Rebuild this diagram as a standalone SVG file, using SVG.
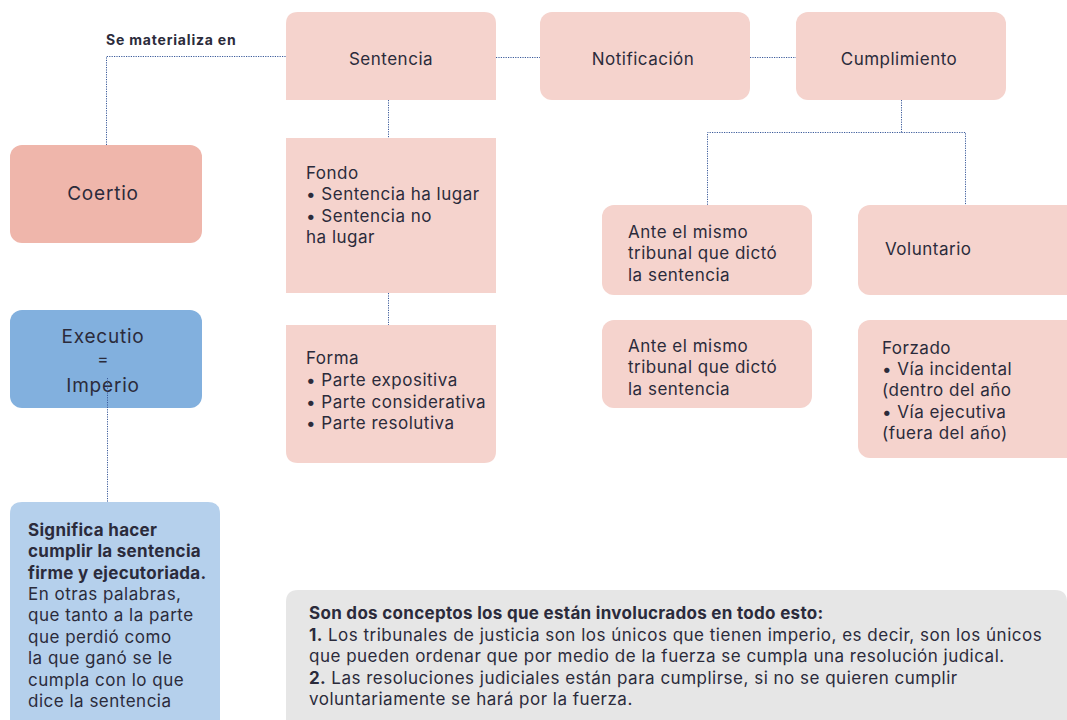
<svg xmlns="http://www.w3.org/2000/svg" width="1067" height="720" viewBox="0 0 1067 720">
<style>
.t{font-family:"Inter","Liberation Sans",sans-serif;font-size:17px;letter-spacing:0.5px;fill:#2b2b3b}
.b{font-weight:bold;letter-spacing:0.3px}
.big{font-size:19px;letter-spacing:0.8px}
.c{text-anchor:middle}
.pink{fill:#f5d3cd}
.con{fill:none;stroke:#3b5b9b;stroke-width:1;stroke-dasharray:1.2 1.2}
</style>
<g id="label-materializa"><text class="t b" x="106" y="45" style="font-size:14px;letter-spacing:0.8px">Se materializa en</text></g>
<g id="sentencia">
<path class="pink" d="M286 100 V24 Q286 12 298 12 H484 Q496 12 496 24 V100 Z"/>
<text class="t c" x="391" y="65">Sentencia</text>
</g>
<g id="notificacion">
<rect class="pink" x="540" y="12" width="210" height="88" rx="12"/>
<text class="t c" x="643" y="65">Notificación</text>
</g>
<g id="cumplimiento">
<rect class="pink" x="796" y="12" width="210" height="88" rx="12"/>
<text class="t c" x="899" y="65">Cumplimiento</text>
</g>
<g id="coertio">
<rect x="10" y="145" width="192" height="98" rx="12" fill="#efb6ab"/>
<text class="t c big" x="103" y="200">Coertio</text>
</g>
<g id="fondo">
<rect class="pink" x="286" y="138" width="210" height="155"/>
<text class="t" x="306" y="179">Fondo</text>
<text class="t" x="306" y="200">• Sentencia ha lugar</text>
<text class="t" x="306" y="222">• Sentencia no</text>
<text class="t" x="306" y="243">ha lugar</text>
</g>
<g id="forma">
<path class="pink" d="M286 325 H496 V451 Q496 463 484 463 H298 Q286 463 286 451 Z"/>
<text class="t" x="306" y="364">Forma</text>
<text class="t" x="306" y="386">• Parte expositiva</text>
<text class="t" x="306" y="408">• Parte considerativa</text>
<text class="t" x="306" y="429">• Parte resolutiva</text>
</g>
<g id="executio">
<rect x="10" y="310" width="192" height="98" rx="12" fill="#82b0de"/>
<text class="t c big" x="103" y="343">Executio</text>
<text class="t c" x="103" y="365">=</text>
<text class="t c big" x="103" y="392">Imperio</text>
</g>
<g id="significa">
<path d="M10 730 V514 Q10 502 22 502 H208 Q220 502 220 514 V730 Z" fill="#b5d0ec"/>
<text class="t b" x="28" y="536">Significa hacer</text>
<text class="t b" x="28" y="557">cumplir la sentencia</text>
<text class="t b" x="28" y="579">firme y ejecutoriada.</text>
<text class="t" x="28" y="600">En otras palabras,</text>
<text class="t" x="28" y="621">que tanto a la parte</text>
<text class="t" x="28" y="643">que perdió como</text>
<text class="t" x="28" y="664">la que ganó se le</text>
<text class="t" x="28" y="686">cumpla con lo que</text>
<text class="t" x="28" y="707">dice la sentencia</text>
</g>
<g id="ante1">
<rect class="pink" x="602" y="205" width="210" height="90" rx="12"/>
<text class="t" x="628" y="238">Ante el mismo</text>
<text class="t" x="628" y="259">tribunal que dictó</text>
<text class="t" x="628" y="281">la sentencia</text>
</g>
<g id="voluntario">
<rect class="pink" x="858" y="205" width="220" height="90" rx="12"/>
<text class="t" x="885" y="255">Voluntario</text>
</g>
<g id="ante2">
<rect class="pink" x="602" y="320" width="210" height="88" rx="12"/>
<text class="t" x="628" y="352">Ante el mismo</text>
<text class="t" x="628" y="373">tribunal que dictó</text>
<text class="t" x="628" y="395">la sentencia</text>
</g>
<g id="forzado">
<rect class="pink" x="858" y="320" width="220" height="138" rx="12"/>
<text class="t" x="882" y="354">Forzado</text>
<text class="t" x="882" y="375">• Vía incidental</text>
<text class="t" x="882" y="396">(dentro del año</text>
<text class="t" x="882" y="418">• Vía ejecutiva</text>
<text class="t" x="882" y="439">(fuera del año)</text>
</g>
<g id="nota">
<path d="M286 730 V602 Q286 590 298 590 H1055 Q1067 590 1067 602 V730 Z" fill="#e6e6e6"/>
<text class="t b" x="309" y="619">Son dos conceptos los que están involucrados en todo esto:</text>
<text class="t" x="309" y="641"><tspan class="b">1.</tspan> Los tribunales de justicia son los únicos que tienen imperio, es decir, son los únicos</text>
<text class="t" x="309" y="662">que pueden ordenar que por medio de la fuerza se cumpla una resolución judical.</text>
<text class="t" x="309" y="684"><tspan class="b">2.</tspan> Las resoluciones judiciales están para cumplirse, si no se quieren cumplir</text>
<text class="t" x="309" y="705">voluntariamente se hará por la fuerza.</text>
</g>
<g id="connectors">
<path class="con" d="M106.5 145 V56.5 H286"/>
<path class="con" d="M496 57.5 H540"/>
<path class="con" d="M750 57.5 H796"/>
<path class="con" d="M388.5 100 V138"/>
<path class="con" d="M388.5 293 V325"/>
<path class="con" d="M901.5 100 V132.5 H707.5 V205"/>
<path class="con" d="M901.5 132.5 H965.5 V205"/>
<path class="con" d="M107.5 378 V502"/>
</g>
</svg>
